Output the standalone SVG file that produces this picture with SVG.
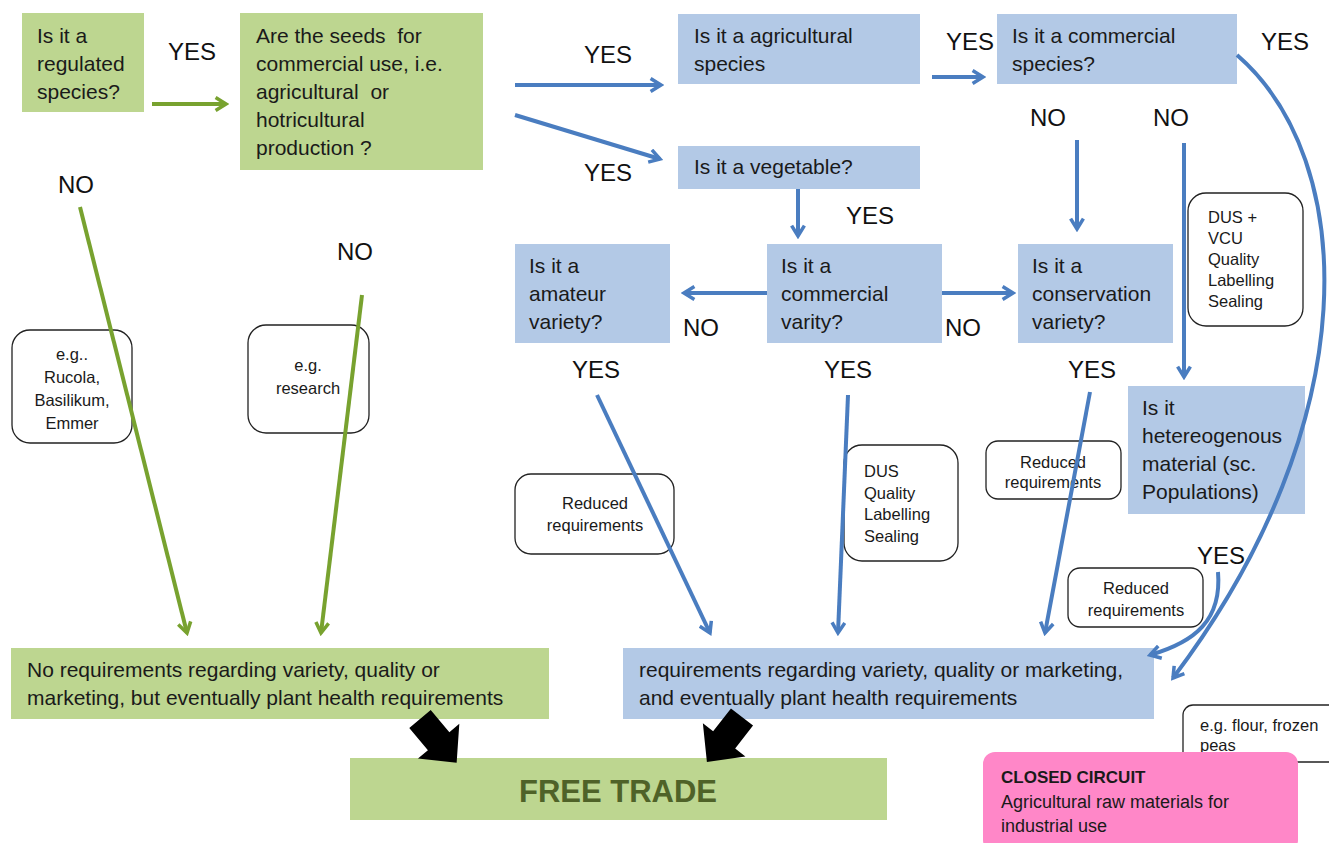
<svg xmlns="http://www.w3.org/2000/svg" width="1329" height="843" viewBox="0 0 1329 843">
<style>
.t{font-family:"Liberation Sans",Arial,sans-serif;font-size:21px;fill:#1a1a1a;white-space:pre}
.s{font-family:"Liberation Sans",Arial,sans-serif;font-size:16.5px;fill:#1a1a1a}
.yn{font-family:"Liberation Sans",Arial,sans-serif;font-size:24px;fill:#111}
.g{fill:#bdd690}
.b{fill:#b3c9e6}
.note{fill:#fff;stroke:#222;stroke-width:1.3}
.ab{stroke:#4a7dc0;stroke-width:4;fill:none;marker-end:url(#mb)}
.ag{stroke:#78a22f;stroke-width:4;fill:none;marker-end:url(#mg)}
</style>
<defs>
<marker id="mb" viewBox="0 0 10 10" refX="8" refY="5" markerWidth="4" markerHeight="4" orient="auto" markerUnits="strokeWidth">
<path d="M1.5,1 L8,5 L1.5,9" fill="none" stroke="#4a7dc0" stroke-width="2.2" stroke-linejoin="miter"/>
</marker>
<marker id="mg" viewBox="0 0 10 10" refX="8" refY="5" markerWidth="4" markerHeight="4" orient="auto" markerUnits="strokeWidth">
<path d="M1.5,1 L8,5 L1.5,9" fill="none" stroke="#78a22f" stroke-width="2.2" stroke-linejoin="miter"/>
</marker>
<path id="blk" d="M0,-14 L29,-14 L29,-27 L57,0 L29,27 L29,14 L0,14 Z" fill="#000"/>
</defs>

<g id="regulated"><rect class="g" x="22" y="13" width="122" height="99"/>
<text class="t" x="37" y="43">Is it a</text><text class="t" x="37" y="71">regulated</text><text class="t" x="37" y="99">species?</text></g>

<g id="seeds"><rect class="g" x="240" y="13" width="243" height="157"/>
<text class="t" x="256" y="43">Are the seeds  for</text><text class="t" x="256" y="71">commercial use, i.e.</text><text class="t" x="256" y="99">agricultural  or</text><text class="t" x="256" y="127">hotricultural</text><text class="t" x="256" y="155">production ?</text></g>

<g id="agri"><rect class="b" x="678" y="14" width="242" height="70"/>
<text class="t" x="694" y="43">Is it a agricultural</text><text class="t" x="694" y="71">species</text></g>

<g id="comspecies"><rect class="b" x="997" y="14" width="240" height="70"/>
<text class="t" x="1012" y="43">Is it a commercial</text><text class="t" x="1012" y="71">species?</text></g>

<g id="vegetable"><rect class="b" x="678" y="146" width="242" height="43"/>
<text class="t" x="694" y="174">Is it a vegetable?</text></g>

<g id="amateur"><rect class="b" x="515" y="244" width="155" height="99"/>
<text class="t" x="529" y="273">Is it a</text><text class="t" x="529" y="301">amateur</text><text class="t" x="529" y="329">variety?</text></g>

<g id="comvarity"><rect class="b" x="767" y="244" width="175" height="99"/>
<text class="t" x="781" y="273">Is it a</text><text class="t" x="781" y="301">commercial</text><text class="t" x="781" y="329">varity?</text></g>

<g id="conservation"><rect class="b" x="1018" y="244" width="155" height="99"/>
<text class="t" x="1032" y="273">Is it a</text><text class="t" x="1032" y="301">conservation</text><text class="t" x="1032" y="329">variety?</text></g>

<g id="hetero"><rect class="b" x="1128" y="386" width="177" height="128"/>
<text class="t" x="1142" y="415">Is it</text><text class="t" x="1142" y="443">hetereogenous</text><text class="t" x="1142" y="471">material (sc.</text><text class="t" x="1142" y="499">Populations)</text></g>

<g id="noreq"><rect class="g" x="11" y="648" width="538" height="71"/>
<text class="t" x="27" y="677">No requirements regarding variety, quality or</text><text class="t" x="27" y="705">marketing, but eventually plant health requirements</text></g>

<g id="req"><rect class="b" x="623" y="648" width="531" height="71"/>
<text class="t" x="639" y="677">requirements regarding variety, quality or marketing,</text><text class="t" x="639" y="705">and eventually plant health requirements</text></g>

<g id="freetrade"><rect class="g" x="350" y="758" width="537" height="62"/>
<text x="618" y="802" text-anchor="middle" style="font-family:'Liberation Sans',Arial,sans-serif;font-size:31px;font-weight:bold;fill:#4f6228">FREE TRADE</text></g>

<g id="note-rucola"><rect class="note" x="12" y="330" width="120" height="113" rx="18"/>
<text class="s" text-anchor="middle" x="72" y="360">e.g..</text><text class="s" text-anchor="middle" x="72" y="383">Rucola,</text><text class="s" text-anchor="middle" x="72" y="406">Basilikum,</text><text class="s" text-anchor="middle" x="72" y="429">Emmer</text></g>

<g id="note-research"><rect class="note" x="248" y="325" width="121" height="108" rx="18"/>
<text class="s" text-anchor="middle" x="308" y="371">e.g.</text><text class="s" text-anchor="middle" x="308" y="394">research</text></g>

<g id="note-dusvcu"><rect class="note" x="1188" y="193" width="115" height="133" rx="18"/>
<text class="s" x="1208" y="223">DUS +</text><text class="s" x="1208" y="244">VCU</text><text class="s" x="1208" y="265">Quality</text><text class="s" x="1208" y="286">Labelling</text><text class="s" x="1208" y="307">Sealing</text></g>

<g id="note-dus"><rect class="note" x="844" y="445" width="114" height="116" rx="18"/>
<text class="s" x="864" y="477">DUS</text><text class="s" x="864" y="499">Quality</text><text class="s" x="864" y="520">Labelling</text><text class="s" x="864" y="542">Sealing</text></g>

<g id="note-reduced1"><rect class="note" x="515" y="474" width="159" height="80" rx="16"/>
<text class="s" text-anchor="middle" x="595" y="509">Reduced</text><text class="s" text-anchor="middle" x="595" y="531">requirements</text></g>

<g id="note-reduced2"><rect class="note" x="986" y="441" width="135" height="58" rx="12"/>
<text class="s" text-anchor="middle" x="1053" y="468">Reduced</text><text class="s" text-anchor="middle" x="1053" y="488">requirements</text></g>

<g id="note-reduced3"><rect class="note" x="1068" y="568" width="135" height="59" rx="12"/>
<text class="s" text-anchor="middle" x="1136" y="594">Reduced</text><text class="s" text-anchor="middle" x="1136" y="616">requirements</text></g>

<g id="note-flour"><rect class="note" x="1183" y="705" width="160" height="57" rx="10"/>
<text class="s" x="1200" y="731">e.g. flour, frozen</text><text class="s" x="1200" y="751">peas</text></g>

<g id="closed"><rect x="983" y="752" width="315" height="100" rx="12" fill="#ff87c8"/>
<text x="1001" y="783" style="font-family:'Liberation Sans',Arial,sans-serif;font-size:17px;font-weight:bold;fill:#1a1a1a">CLOSED CIRCUIT</text>
<text x="1001" y="808" style="font-family:'Liberation Sans',Arial,sans-serif;font-size:18px;fill:#1a1a1a">Agricultural raw materials for</text><text x="1001" y="832" style="font-family:'Liberation Sans',Arial,sans-serif;font-size:18px;fill:#1a1a1a">industrial use</text></g>

<g id="labels">
<text class="yn" x="168" y="60">YES</text>
<text class="yn" x="58" y="193">NO</text>
<text class="yn" x="337" y="260">NO</text>
<text class="yn" x="584" y="63">YES</text>
<text class="yn" x="584" y="181">YES</text>
<text class="yn" x="946" y="50">YES</text>
<text class="yn" x="1261" y="50">YES</text>
<text class="yn" x="1030" y="126">NO</text>
<text class="yn" x="1153" y="126">NO</text>
<text class="yn" x="846" y="224">YES</text>
<text class="yn" x="683" y="336">NO</text>
<text class="yn" x="945" y="336">NO</text>
<text class="yn" x="572" y="378">YES</text>
<text class="yn" x="824" y="378">YES</text>
<text class="yn" x="1068" y="378">YES</text>
<text class="yn" x="1197" y="564">YES</text>
</g>

<g id="connectors">
<path class="ag" d="M152,104 L226,104"/>
<path class="ag" d="M80,207 L187,633"/>
<path class="ag" d="M362,295 L321,633"/>
<path class="ab" d="M515,85 L661,85"/>
<path class="ab" d="M515,115 L660,159"/>
<path class="ab" d="M932,77 L983,77"/>
<path class="ab" d="M798,189 L798,236"/>
<path class="ab" d="M767,293 L684,293"/>
<path class="ab" d="M942,293 L1013,293"/>
<path class="ab" d="M1077,140 L1077,229"/>
<path class="ab" d="M1184,143 L1184,377"/>
<path class="ab" d="M597,395 L710,633"/>
<path class="ab" d="M848,395 L838,633"/>
<path class="ab" d="M1090,392 L1045,633"/>
<path class="ab" d="M1237,55 C1358,160 1368,420 1173,678"/>
<path class="ab" d="M1218,572 C1222,620 1195,642 1150,655"/>
<use href="#blk" transform="translate(420,719) rotate(50)"/>
<use href="#blk" transform="translate(742,717) rotate(128)"/>
</g>
</svg>
